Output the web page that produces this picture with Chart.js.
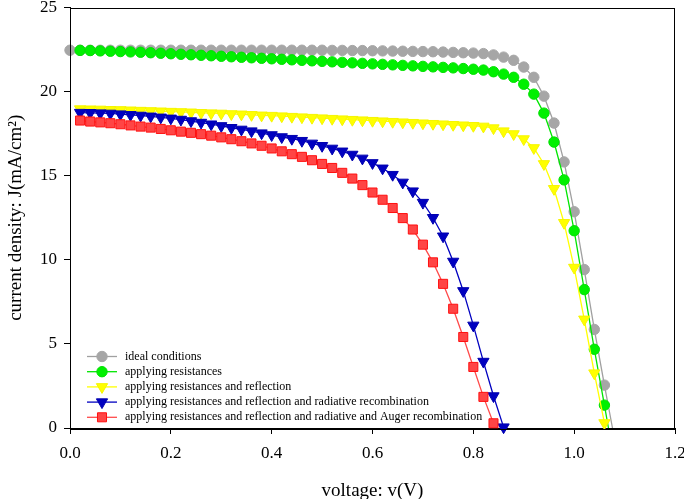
<!DOCTYPE html>
<html>
<head>
<meta charset="utf-8">
<script src="https://cdn.jsdelivr.net/npm/chart.js@4/dist/chart.umd.min.js"></script>
<style>
  body { margin: 0; background: #fff; }
  canvas { display: block; }
</style>
</head>
<body>
<canvas id="jv-chart" width="684" height="499"></canvas>
<script>
const seriesNames = [
  'ideal conditions',
  'applying resistances',
  'applying resistances and reflection',
  'applying resistances and reflection and radiative recombination',
  'applying resistances and reflection and radiative and Auger recombination'
];

const vIdeal = [0.00, 0.02, 0.04, 0.06, 0.08, 0.10, 0.12, 0.14, 0.16, 0.18, 0.20, 0.22, 0.24, 0.26, 0.28, 0.30, 0.32, 0.34, 0.36, 0.38, 0.40, 0.42, 0.44, 0.46, 0.48, 0.50, 0.52, 0.54, 0.56, 0.58, 0.60, 0.62, 0.64, 0.66, 0.68, 0.70, 0.72, 0.74, 0.76, 0.78, 0.80, 0.82, 0.84, 0.86, 0.88, 0.90, 0.92, 0.94, 0.96, 0.98, 1.00, 1.02, 1.04, 1.06, 1.076];
const jIdeal = [22.46, 22.46, 22.46, 22.46, 22.46, 22.46, 22.46, 22.46, 22.46, 22.46, 22.46, 22.46, 22.46, 22.46, 22.46, 22.46, 22.46, 22.46, 22.46, 22.46, 22.46, 22.46, 22.46, 22.46, 22.46, 22.46, 22.45, 22.45, 22.44, 22.44, 22.43, 22.42, 22.41, 22.40, 22.39, 22.38, 22.37, 22.35, 22.33, 22.31, 22.29, 22.26, 22.18, 22.05, 21.86, 21.46, 20.85, 19.73, 18.13, 15.82, 12.86, 9.42, 5.86, 2.55, 0];

const vRes = [0.02, 0.04, 0.06, 0.08, 0.10, 0.12, 0.14, 0.16, 0.18, 0.20, 0.22, 0.24, 0.26, 0.28, 0.30, 0.32, 0.34, 0.36, 0.38, 0.40, 0.42, 0.44, 0.46, 0.48, 0.50, 0.52, 0.54, 0.56, 0.58, 0.60, 0.62, 0.64, 0.66, 0.68, 0.70, 0.72, 0.74, 0.76, 0.78, 0.80, 0.82, 0.84, 0.86, 0.88, 0.90, 0.92, 0.94, 0.96, 0.98, 1.00, 1.02, 1.04, 1.06, 1.068];
const jRes = [22.45, 22.44, 22.42, 22.40, 22.38, 22.36, 22.34, 22.31, 22.28, 22.25, 22.22, 22.19, 22.16, 22.13, 22.10, 22.07, 22.04, 22.01, 21.98, 21.95, 21.92, 21.89, 21.86, 21.83, 21.80, 21.77, 21.74, 21.71, 21.68, 21.65, 21.62, 21.59, 21.56, 21.53, 21.50, 21.47, 21.44, 21.41, 21.37, 21.33, 21.28, 21.18, 21.04, 20.85, 20.44, 19.85, 18.72, 17.00, 14.75, 11.73, 8.23, 4.68, 1.36, 0];

const vRefl = [0.02, 0.04, 0.06, 0.08, 0.10, 0.12, 0.14, 0.16, 0.18, 0.20, 0.22, 0.24, 0.26, 0.28, 0.30, 0.32, 0.34, 0.36, 0.38, 0.40, 0.42, 0.44, 0.46, 0.48, 0.50, 0.52, 0.54, 0.56, 0.58, 0.60, 0.62, 0.64, 0.66, 0.68, 0.70, 0.72, 0.74, 0.76, 0.78, 0.80, 0.82, 0.84, 0.86, 0.88, 0.90, 0.92, 0.94, 0.96, 0.98, 1.00, 1.02, 1.04, 1.06];
const jRefl = [18.96, 18.95, 18.94, 18.92, 18.91, 18.89, 18.87, 18.85, 18.83, 18.81, 18.79, 18.77, 18.74, 18.72, 18.70, 18.67, 18.65, 18.62, 18.59, 18.57, 18.54, 18.51, 18.48, 18.45, 18.42, 18.39, 18.36, 18.33, 18.30, 18.27, 18.24, 18.21, 18.18, 18.15, 18.12, 18.09, 18.06, 18.03, 18.00, 17.97, 17.93, 17.83, 17.65, 17.48, 17.18, 16.65, 15.70, 14.22, 12.20, 9.54, 6.46, 3.26, 0.30];

const vRad = [0.02, 0.04, 0.06, 0.08, 0.10, 0.12, 0.14, 0.16, 0.18, 0.20, 0.22, 0.24, 0.26, 0.28, 0.30, 0.32, 0.34, 0.36, 0.38, 0.40, 0.42, 0.44, 0.46, 0.48, 0.50, 0.52, 0.54, 0.56, 0.58, 0.60, 0.62, 0.64, 0.66, 0.68, 0.70, 0.72, 0.74, 0.76, 0.78, 0.80, 0.82, 0.84, 0.86];
const jRad = [18.75, 18.74, 18.72, 18.70, 18.66, 18.62, 18.58, 18.53, 18.47, 18.41, 18.34, 18.25, 18.16, 18.06, 17.96, 17.85, 17.75, 17.65, 17.53, 17.42, 17.30, 17.20, 17.08, 16.92, 16.78, 16.62, 16.45, 16.26, 16.03, 15.76, 15.44, 15.06, 14.60, 14.08, 13.40, 12.50, 11.40, 9.90, 8.15, 6.10, 3.95, 1.90, 0.05];

const vAuger = [0.02, 0.04, 0.06, 0.08, 0.10, 0.12, 0.14, 0.16, 0.18, 0.20, 0.22, 0.24, 0.26, 0.28, 0.30, 0.32, 0.34, 0.36, 0.38, 0.40, 0.42, 0.44, 0.46, 0.48, 0.50, 0.52, 0.54, 0.56, 0.58, 0.60, 0.62, 0.64, 0.66, 0.68, 0.70, 0.72, 0.74, 0.76, 0.78, 0.80, 0.82, 0.84];
const jAuger = [18.28, 18.22, 18.17, 18.12, 18.06, 17.99, 17.92, 17.86, 17.78, 17.70, 17.62, 17.55, 17.47, 17.38, 17.28, 17.17, 17.05, 16.92, 16.78, 16.62, 16.45, 16.28, 16.12, 15.92, 15.70, 15.46, 15.17, 14.83, 14.44, 14.00, 13.57, 13.08, 12.48, 11.80, 10.90, 9.85, 8.57, 7.09, 5.41, 3.63, 1.85, 0.28];

const xTicks = [0, 0.2, 0.4, 0.6, 0.8, 1.0, 1.2];
const yTicks = [0, 5, 10, 15, 20, 25];

const serif = '"Liberation Serif", "Times New Roman", serif';

function pairs(xs, ys) {
  return xs.map((x, i) => ({ x: x, y: ys[i] }));
}

function makeSet(label, xs, ys, style) {
  return {
    label: label,
    data: pairs(xs, ys),
    borderColor: style.line,
    borderWidth: 1.3,
    backgroundColor: style.fill,
    pointBackgroundColor: style.fill,
    pointBorderColor: style.edge,
    pointBorderWidth: 1,
    pointStyle: style.shape,
    rotation: style.rotation || 0,
    // the closing point on the axis has no marker
    pointRadius: (c) => (c.raw && c.raw.y === 0 ? 0 : style.radius),
    pointHoverRadius: style.radius,
    tension: 0,
    fill: false,
    clip: false,
    order: style.order
  };
}

const datasets = [
  makeSet(seriesNames[0], vIdeal, jIdeal, { line: '#a0a0a0', fill: '#a6a6a6', edge: '#a6a6a6', shape: 'circle', radius: 5.2, order: 5 }),
  makeSet(seriesNames[1], vRes, jRes, { line: '#00e600', fill: '#00f000', edge: '#00e000', shape: 'circle', radius: 5.2, order: 4 }),
  makeSet(seriesNames[2], vRefl, jRefl, { line: '#ffff00', fill: '#ffff00', edge: '#f5f500', shape: 'triangle', rotation: 180, radius: 6.5, order: 3 }),
  makeSet(seriesNames[3], vRad, jRad, { line: '#0000c0', fill: '#0000c0', edge: '#0000b0', shape: 'triangle', rotation: 180, radius: 6.5, order: 2 }),
  makeSet(seriesNames[4], vAuger, jAuger, { line: '#ff4a4a', fill: '#ff4545', edge: '#ff1010', shape: 'rect', radius: 6.4, order: 1 })
];

function drawMarker(ctx, ds, x, y) {
  const rad = ds.pointHoverRadius;
  ctx.beginPath();
  if (ds.pointStyle === 'circle') {
    ctx.arc(x, y, rad, 0, Math.PI * 2);
  } else if (ds.pointStyle === 'triangle') {
    let a = ds.rotation * Math.PI / 180;
    for (let k = 0; k < 3; k++) {
      const px = x + Math.sin(a) * rad;
      const py = y - Math.cos(a) * rad;
      if (k === 0) ctx.moveTo(px, py); else ctx.lineTo(px, py);
      a += Math.PI * 2 / 3;
    }
    ctx.closePath();
  } else {
    const s = Math.SQRT1_2 * rad;
    ctx.rect(x - s, y - s, 2 * s, 2 * s);
  }
  ctx.fillStyle = ds.pointBackgroundColor;
  ctx.fill();
  ctx.lineWidth = 1;
  ctx.strokeStyle = ds.pointBorderColor;
  ctx.stroke();
}

const frameAndLegend = {
  id: 'frameAndLegend',
  afterDraw(chart) {
    const ctx = chart.ctx;
    const a = chart.chartArea;
    ctx.save();
    ctx.strokeStyle = '#000';
    ctx.lineWidth = 1;
    ctx.strokeRect(Math.round(a.left) + 0.5, Math.round(a.top) + 0.5,
      Math.round(a.right - a.left) - 1, Math.round(a.bottom - a.top));

    // legend inside the plot, lower left
    const x0 = a.left + 17;
    const y0 = a.top + 349;
    const rowH = 15.2;
    ctx.font = '12px ' + serif;
    ctx.textBaseline = 'middle';
    chart.data.datasets.forEach((ds, i) => {
      const y = y0 + i * rowH;
      ctx.beginPath();
      ctx.moveTo(x0, y);
      ctx.lineTo(x0 + 30, y);
      ctx.strokeStyle = ds.borderColor;
      ctx.lineWidth = 1.3;
      ctx.stroke();
      drawMarker(ctx, ds, x0 + 15, y);
      ctx.fillStyle = '#000';
      ctx.fillText(ds.label, x0 + 38, y);
    });
    ctx.restore();
  }
};

function renderChart() {
  const ctx = document.querySelector('#jv-chart').getContext('2d');
  new Chart(ctx, {
    type: 'line',
    data: { datasets },
    options: {
      responsive: false,
      animation: false,
      events: [],
      layout: { padding: { left: 0, top: 6, right: 9, bottom: 0 } },
      plugins: { legend: { display: false }, tooltip: { enabled: false } },
      scales: {
        x: {
          type: 'linear',
          min: 0,
          max: 1.2,
          afterFit: (s) => { s.height = 71; s.paddingLeft = 0; s.paddingRight = 0; },
          afterBuildTicks: (s) => { s.ticks = xTicks.map((v) => ({ value: v })); },
          ticks: {
            callback: (v) => v.toFixed(1),
            color: '#000',
            font: { family: serif, size: 17 },
            padding: 9,
            maxRotation: 0
          },
          grid: { drawOnChartArea: false, drawTicks: true, tickLength: 6, color: '#000' },
          border: { display: true, color: '#000', width: 1 },
          title: {
            display: true,
            text: 'voltage: v(V)',
            color: '#000',
            font: { family: serif, size: 19 },
            padding: { top: 0, bottom: -3 }
          }
        },
        y: {
          type: 'linear',
          min: 0,
          max: 25,
          afterFit: (s) => { s.width = 70; s.paddingTop = 0; s.paddingBottom = 0; },
          afterBuildTicks: (s) => { s.ticks = yTicks.map((v) => ({ value: v })); },
          ticks: {
            color: '#000',
            font: { family: serif, size: 17 },
            padding: 7
          },
          grid: { drawOnChartArea: false, drawTicks: true, tickLength: 6, color: '#000' },
          border: { display: true, color: '#000', width: 1 },
          title: {
            display: true,
            text: 'current density: J(mA/cm²)',
            color: '#000',
            font: { family: serif, size: 19 },
            padding: { top: 5, bottom: 0 }
          }
        }
      }
    },
    plugins: [frameAndLegend]
  });
}

document.addEventListener('DOMContentLoaded', renderChart);
</script>
</body>
</html>
